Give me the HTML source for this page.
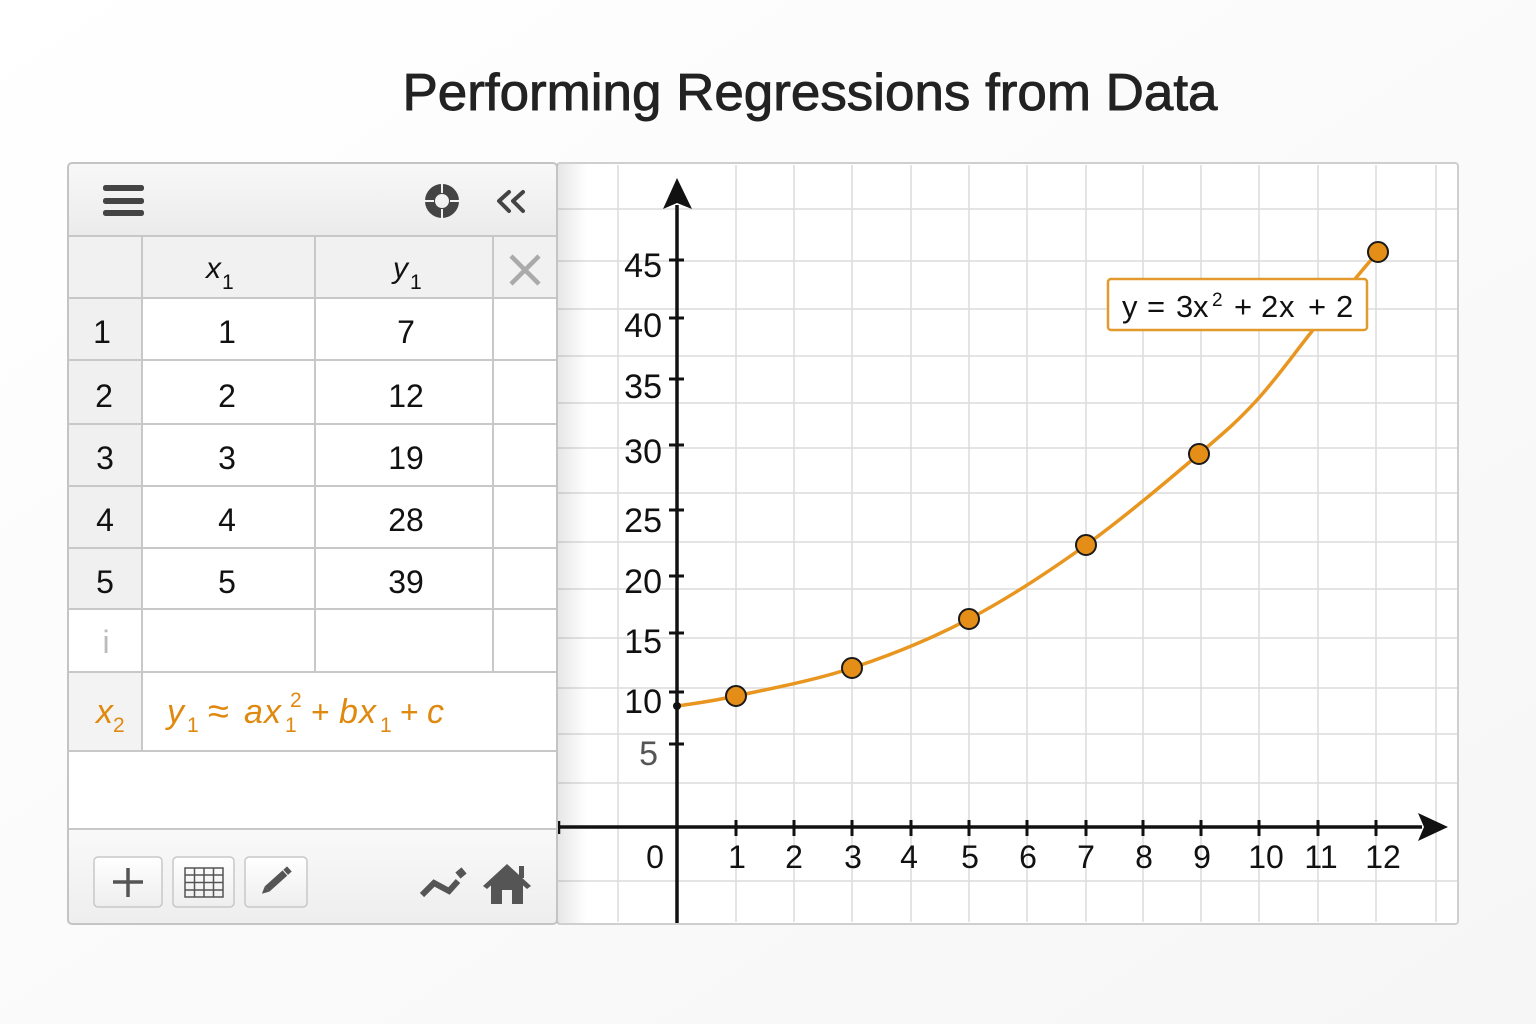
<!DOCTYPE html>
<html><head><meta charset="utf-8"><style>
html,body{margin:0;padding:0;background:#fdfdfd;}
svg{display:block;}
text{font-family:"Liberation Sans",Arial,sans-serif;}
</style></head><body>
<svg width="1536" height="1024" viewBox="0 0 1536 1024" xmlns="http://www.w3.org/2000/svg">
<defs>
<linearGradient id="tb" x1="0" y1="0" x2="0" y2="1"><stop offset="0" stop-color="#f8f8f8"/><stop offset="1" stop-color="#ebebeb"/></linearGradient>
<linearGradient id="bt" x1="0" y1="0" x2="0" y2="1"><stop offset="0" stop-color="#f9f9f9"/><stop offset="1" stop-color="#eeeeee"/></linearGradient>
<linearGradient id="btn" x1="0" y1="0" x2="0" y2="1"><stop offset="0" stop-color="#ffffff"/><stop offset="1" stop-color="#eeeeee"/></linearGradient>
<linearGradient id="sh" x1="0" y1="0" x2="1" y2="0"><stop offset="0" stop-color="#000" stop-opacity="0.10"/><stop offset="1" stop-color="#000" stop-opacity="0"/></linearGradient>
<linearGradient id="pg" x1="0" y1="0" x2="1" y2="1"><stop offset="0" stop-color="#ffffff"/><stop offset="1" stop-color="#f6f6f6"/></linearGradient>
</defs>
<rect x="0" y="0" width="1536" height="1024" fill="url(#pg)"/>

<!-- Title -->
<text x="810" y="110" font-size="52" fill="#222" stroke="#222" stroke-width="0.9" text-anchor="middle" textLength="815" lengthAdjust="spacingAndGlyphs">Performing Regressions from Data</text>

<!-- Graph area -->
<rect x="557" y="163" width="901" height="761" fill="#ffffff" stroke="#cfcfcf" stroke-width="2" rx="3"/>
<g stroke="#dcdcdc" stroke-width="1.5">
<line x1="618" y1="165" x2="618" y2="922"/>
<line x1="736" y1="165" x2="736" y2="922"/>
<line x1="794" y1="165" x2="794" y2="922"/>
<line x1="852" y1="165" x2="852" y2="922"/>
<line x1="911" y1="165" x2="911" y2="922"/>
<line x1="969" y1="165" x2="969" y2="922"/>
<line x1="1027" y1="165" x2="1027" y2="922"/>
<line x1="1086" y1="165" x2="1086" y2="922"/>
<line x1="1143" y1="165" x2="1143" y2="922"/>
<line x1="1201" y1="165" x2="1201" y2="922"/>
<line x1="1259" y1="165" x2="1259" y2="922"/>
<line x1="1318" y1="165" x2="1318" y2="922"/>
<line x1="1376" y1="165" x2="1376" y2="922"/>
<line x1="1436" y1="165" x2="1436" y2="922"/>
<line x1="558" y1="209" x2="1457" y2="209"/>
<line x1="558" y1="261" x2="1457" y2="261"/>
<line x1="558" y1="309" x2="1457" y2="309"/>
<line x1="558" y1="356" x2="1457" y2="356"/>
<line x1="558" y1="403" x2="1457" y2="403"/>
<line x1="558" y1="448" x2="1457" y2="448"/>
<line x1="558" y1="493" x2="1457" y2="493"/>
<line x1="558" y1="542" x2="1457" y2="542"/>
<line x1="558" y1="589" x2="1457" y2="589"/>
<line x1="558" y1="638" x2="1457" y2="638"/>
<line x1="558" y1="688" x2="1457" y2="688"/>
<line x1="558" y1="734" x2="1457" y2="734"/>
<line x1="558" y1="783" x2="1457" y2="783"/>
<line x1="558" y1="881" x2="1457" y2="881"/>
</g>
<rect x="557" y="164" width="30" height="759" fill="url(#sh)"/>

<!-- Axes -->
<g stroke="#111" stroke-width="3.5" fill="none">
<line x1="677" y1="205" x2="677" y2="923"/>
<line x1="559" y1="827" x2="1422" y2="827"/>
<line x1="559" y1="821" x2="559" y2="834" stroke-width="2.5"/>
</g>
<polygon points="677,178 692,209 677,203 663,209" fill="#111"/>
<polygon points="1448,827 1418,813 1424,827 1418,841" fill="#111"/>
<g stroke="#111" stroke-width="3">
<line x1="669" y1="260" x2="684" y2="260"/>
<line x1="669" y1="318" x2="684" y2="318"/>
<line x1="669" y1="379" x2="684" y2="379"/>
<line x1="669" y1="445" x2="684" y2="445"/>
<line x1="669" y1="510" x2="684" y2="510"/>
<line x1="669" y1="576" x2="684" y2="576"/>
<line x1="669" y1="633" x2="684" y2="633"/>
<line x1="669" y1="692" x2="684" y2="692"/>
<line x1="669" y1="744" x2="684" y2="744"/>
<line x1="736" y1="820" x2="736" y2="836"/>
<line x1="794" y1="820" x2="794" y2="836"/>
<line x1="852" y1="820" x2="852" y2="836"/>
<line x1="911" y1="820" x2="911" y2="836"/>
<line x1="969" y1="820" x2="969" y2="836"/>
<line x1="1027" y1="820" x2="1027" y2="836"/>
<line x1="1086" y1="820" x2="1086" y2="836"/>
<line x1="1143" y1="820" x2="1143" y2="836"/>
<line x1="1201" y1="820" x2="1201" y2="836"/>
<line x1="1259" y1="820" x2="1259" y2="836"/>
<line x1="1318" y1="820" x2="1318" y2="836"/>
<line x1="1376" y1="820" x2="1376" y2="836"/>
</g>
<g font-size="34" fill="#111" text-anchor="end">
<text x="662" y="277">45</text>
<text x="662" y="337">40</text>
<text x="662" y="398">35</text>
<text x="662" y="463">30</text>
<text x="662" y="532">25</text>
<text x="662" y="593">20</text>
<text x="662" y="653">15</text>
<text x="662" y="713">10</text>
<text x="658" y="765" fill="#555">5</text>
</g>
<g font-size="32" fill="#111" text-anchor="middle">
<text x="655" y="868">0</text>
<text x="737" y="868">1</text>
<text x="794" y="868">2</text>
<text x="853" y="868">3</text>
<text x="909" y="868">4</text>
<text x="970" y="868">5</text>
<text x="1028" y="868">6</text>
<text x="1086" y="868">7</text>
<text x="1144" y="868">8</text>
<text x="1202" y="868">9</text>
<text x="1266" y="868">10</text>
<text x="1321" y="868">11</text>
<text x="1383" y="868">12</text>
</g>

<!-- Curve -->
<path d="M677,706 C696.7,703 706.8,702.3 736,696 C765.2,689.7 813.2,680.8 852,668 C890.8,655.2 930,639.5 969,619 C1008,598.5 1047.7,572.5 1086,545 C1124.3,517.5 1170.5,478.2 1199,454 C1227.5,429.8 1238,420.7 1257,400 C1276,379.3 1296.7,350.2 1313,330 C1329.3,309.8 1344.2,292 1355,279 C1365.8,266 1374,256.5 1378,252" fill="none" stroke="#E8961F" stroke-width="3.5"/>
<circle cx="677" cy="706" r="4" fill="#111"/>
<g fill="#E58E17" stroke="#1a1a1a" stroke-width="2">
<circle cx="736" cy="696" r="10"/>
<circle cx="852" cy="668" r="10"/>
<circle cx="969" cy="619" r="10"/>
<circle cx="1086" cy="545" r="10"/>
<circle cx="1199" cy="454" r="10"/>
<circle cx="1378" cy="252" r="10"/>
</g>

<!-- Equation label -->
<rect x="1108" y="279" width="259" height="51" rx="3" fill="#ffffff" stroke="#E39A2D" stroke-width="2.5"/>
<g font-size="31" fill="#111">
<text x="1122" y="317">y</text>
<text x="1147" y="317">=</text>
<text x="1176" y="317">3</text>
<text x="1193" y="317">x</text>
<text x="1212" y="306" font-size="19">2</text>
<text x="1234" y="317">+</text>
<text x="1261" y="317">2</text>
<text x="1279" y="317">x</text>
<text x="1308" y="317">+</text>
<text x="1336" y="317">2</text>
</g>

<!-- Left panel -->
<rect x="68" y="163" width="489" height="761" rx="4" fill="#ffffff"/>
<path d="M72,163 H553 Q557,163 557,167 V236 H68 V167 Q68,163 72,163 Z" fill="url(#tb)"/>
<g fill="#444">
<rect x="103" y="185" width="41" height="6" rx="2.5"/>
<rect x="103" y="198" width="41" height="6" rx="2.5"/>
<rect x="103" y="210" width="41" height="6" rx="2.5"/>
</g>
<circle cx="442" cy="201" r="12" fill="none" stroke="#444" stroke-width="10"/>
<g stroke="#f2f2f2" stroke-width="2">
<line x1="442" y1="183" x2="442" y2="193"/>
<line x1="442" y1="209" x2="442" y2="219"/>
<line x1="424" y1="201" x2="434" y2="201"/>
<line x1="450" y1="201" x2="460" y2="201"/>
</g>
<g fill="none" stroke="#444" stroke-width="4" stroke-linecap="round" stroke-linejoin="round">
<polyline points="509,192 499,201 509,211"/>
<polyline points="523,192 513,201 523,211"/>
</g>

<rect x="69" y="236" width="488" height="62" fill="#f1f1f1"/>
<rect x="69" y="298" width="73" height="311" fill="#f0f0f0"/>
<rect x="69" y="672" width="73" height="79" fill="#f3f3f3"/>
<rect x="69" y="829" width="488" height="94" fill="url(#bt)"/>

<g stroke="#c8c8c8" stroke-width="2">
<line x1="68" y1="236" x2="557" y2="236"/>
<line x1="68" y1="298" x2="557" y2="298"/>
<line x1="68" y1="360" x2="557" y2="360"/>
<line x1="68" y1="424" x2="557" y2="424"/>
<line x1="68" y1="486" x2="557" y2="486"/>
<line x1="68" y1="548" x2="557" y2="548"/>
<line x1="68" y1="609" x2="557" y2="609"/>
<line x1="68" y1="672" x2="557" y2="672"/>
<line x1="68" y1="751" x2="557" y2="751"/>
<line x1="68" y1="829" x2="557" y2="829"/>
<line x1="142" y1="236" x2="142" y2="751"/>
<line x1="315" y1="236" x2="315" y2="672"/>
<line x1="493" y1="236" x2="493" y2="672"/>
</g>
<rect x="68" y="163" width="489" height="761" rx="4" fill="none" stroke="#c4c4c4" stroke-width="2"/>

<text x="206" y="278" font-size="30" font-style="italic" fill="#111">x</text>
<text x="222" y="289" font-size="21" fill="#111">1</text>
<text x="393" y="278" font-size="30" font-style="italic" fill="#111">y</text>
<text x="410" y="289" font-size="21" fill="#111">1</text>
<g stroke="#aaa" stroke-width="4.5">
<line x1="511" y1="256" x2="539" y2="284"/>
<line x1="539" y1="256" x2="511" y2="284"/>
</g>

<g font-size="32" fill="#111" text-anchor="middle">
<text x="102" y="343">1</text><text x="227" y="343">1</text><text x="406" y="343">7</text>
<text x="104" y="407">2</text><text x="227" y="407">2</text><text x="406" y="407">12</text>
<text x="105" y="469">3</text><text x="227" y="469">3</text><text x="406" y="469">19</text>
<text x="105" y="531">4</text><text x="227" y="531">4</text><text x="406" y="531">28</text>
<text x="105" y="593">5</text><text x="227" y="593">5</text><text x="406" y="593">39</text>
<text x="106" y="653" fill="#bbb">i</text>
</g>

<g fill="#E0890F" font-style="italic" font-size="34">
<text x="96" y="723">x</text>
<text x="167" y="723">y</text>
<text x="244" y="723">a</text>
<text x="264" y="723">x</text>
<text x="339" y="723">b</text>
<text x="359" y="723">x</text>
<text x="427" y="723">c</text>
</g>
<g fill="#E0890F" font-size="21">
<text x="113" y="732">2</text>
<text x="187" y="732">1</text>
<text x="285" y="732">1</text>
<text x="290" y="707">2</text>
<text x="380" y="732">1</text>
</g>
<g fill="#E0890F" font-size="32">
<text x="208" y="724" font-size="38">≈</text>
<text x="311" y="723">+</text>
<text x="400" y="723">+</text>
</g>

<rect x="94" y="857" width="68" height="50" rx="4" fill="url(#btn)" stroke="#c8c8c8" stroke-width="1.5"/>
<rect x="173" y="857" width="61" height="50" rx="4" fill="url(#btn)" stroke="#c8c8c8" stroke-width="1.5"/>
<rect x="245" y="857" width="62" height="50" rx="4" fill="url(#btn)" stroke="#c8c8c8" stroke-width="1.5"/>
<g stroke="#555" stroke-width="3.5">
<line x1="113" y1="882" x2="143" y2="882"/>
<line x1="128" y1="868" x2="128" y2="897"/>
</g>
<g stroke="#555" stroke-width="1.5" fill="none">
<rect x="185" y="868" width="38" height="29"/>
<line x1="194.5" y1="868" x2="194.5" y2="897"/>
<line x1="204" y1="868" x2="204" y2="897"/>
<line x1="213.5" y1="868" x2="213.5" y2="897"/>
<line x1="185" y1="875" x2="223" y2="875"/>
<line x1="185" y1="882.5" x2="223" y2="882.5"/>
<line x1="185" y1="890" x2="223" y2="890"/>
</g>
<g transform="translate(276,881) rotate(-42)">
<rect x="-12" y="-3.5" width="24" height="7" fill="#555"/>
<polygon points="-12,-3.5 -19,0 -12,3.5" fill="#555"/>
<rect x="13" y="-3.5" width="5" height="7" fill="#555"/>
</g>
<polyline points="422,895 434,883 449,891 458,881" fill="none" stroke="#555" stroke-width="6" stroke-linejoin="miter"/>
<rect x="457" y="869" width="8" height="8" fill="#555" transform="rotate(-40 461 873)"/>
<polygon points="507,864 531,886 527,889 507,871 487,889 483,886" fill="#555"/>
<rect x="519" y="866" width="5" height="12" fill="#555"/>
<path d="M491,884 L507,870 L523,884 V904 H512 V890 H502 V904 H491 Z" fill="#555"/>
</svg>
</body></html>
